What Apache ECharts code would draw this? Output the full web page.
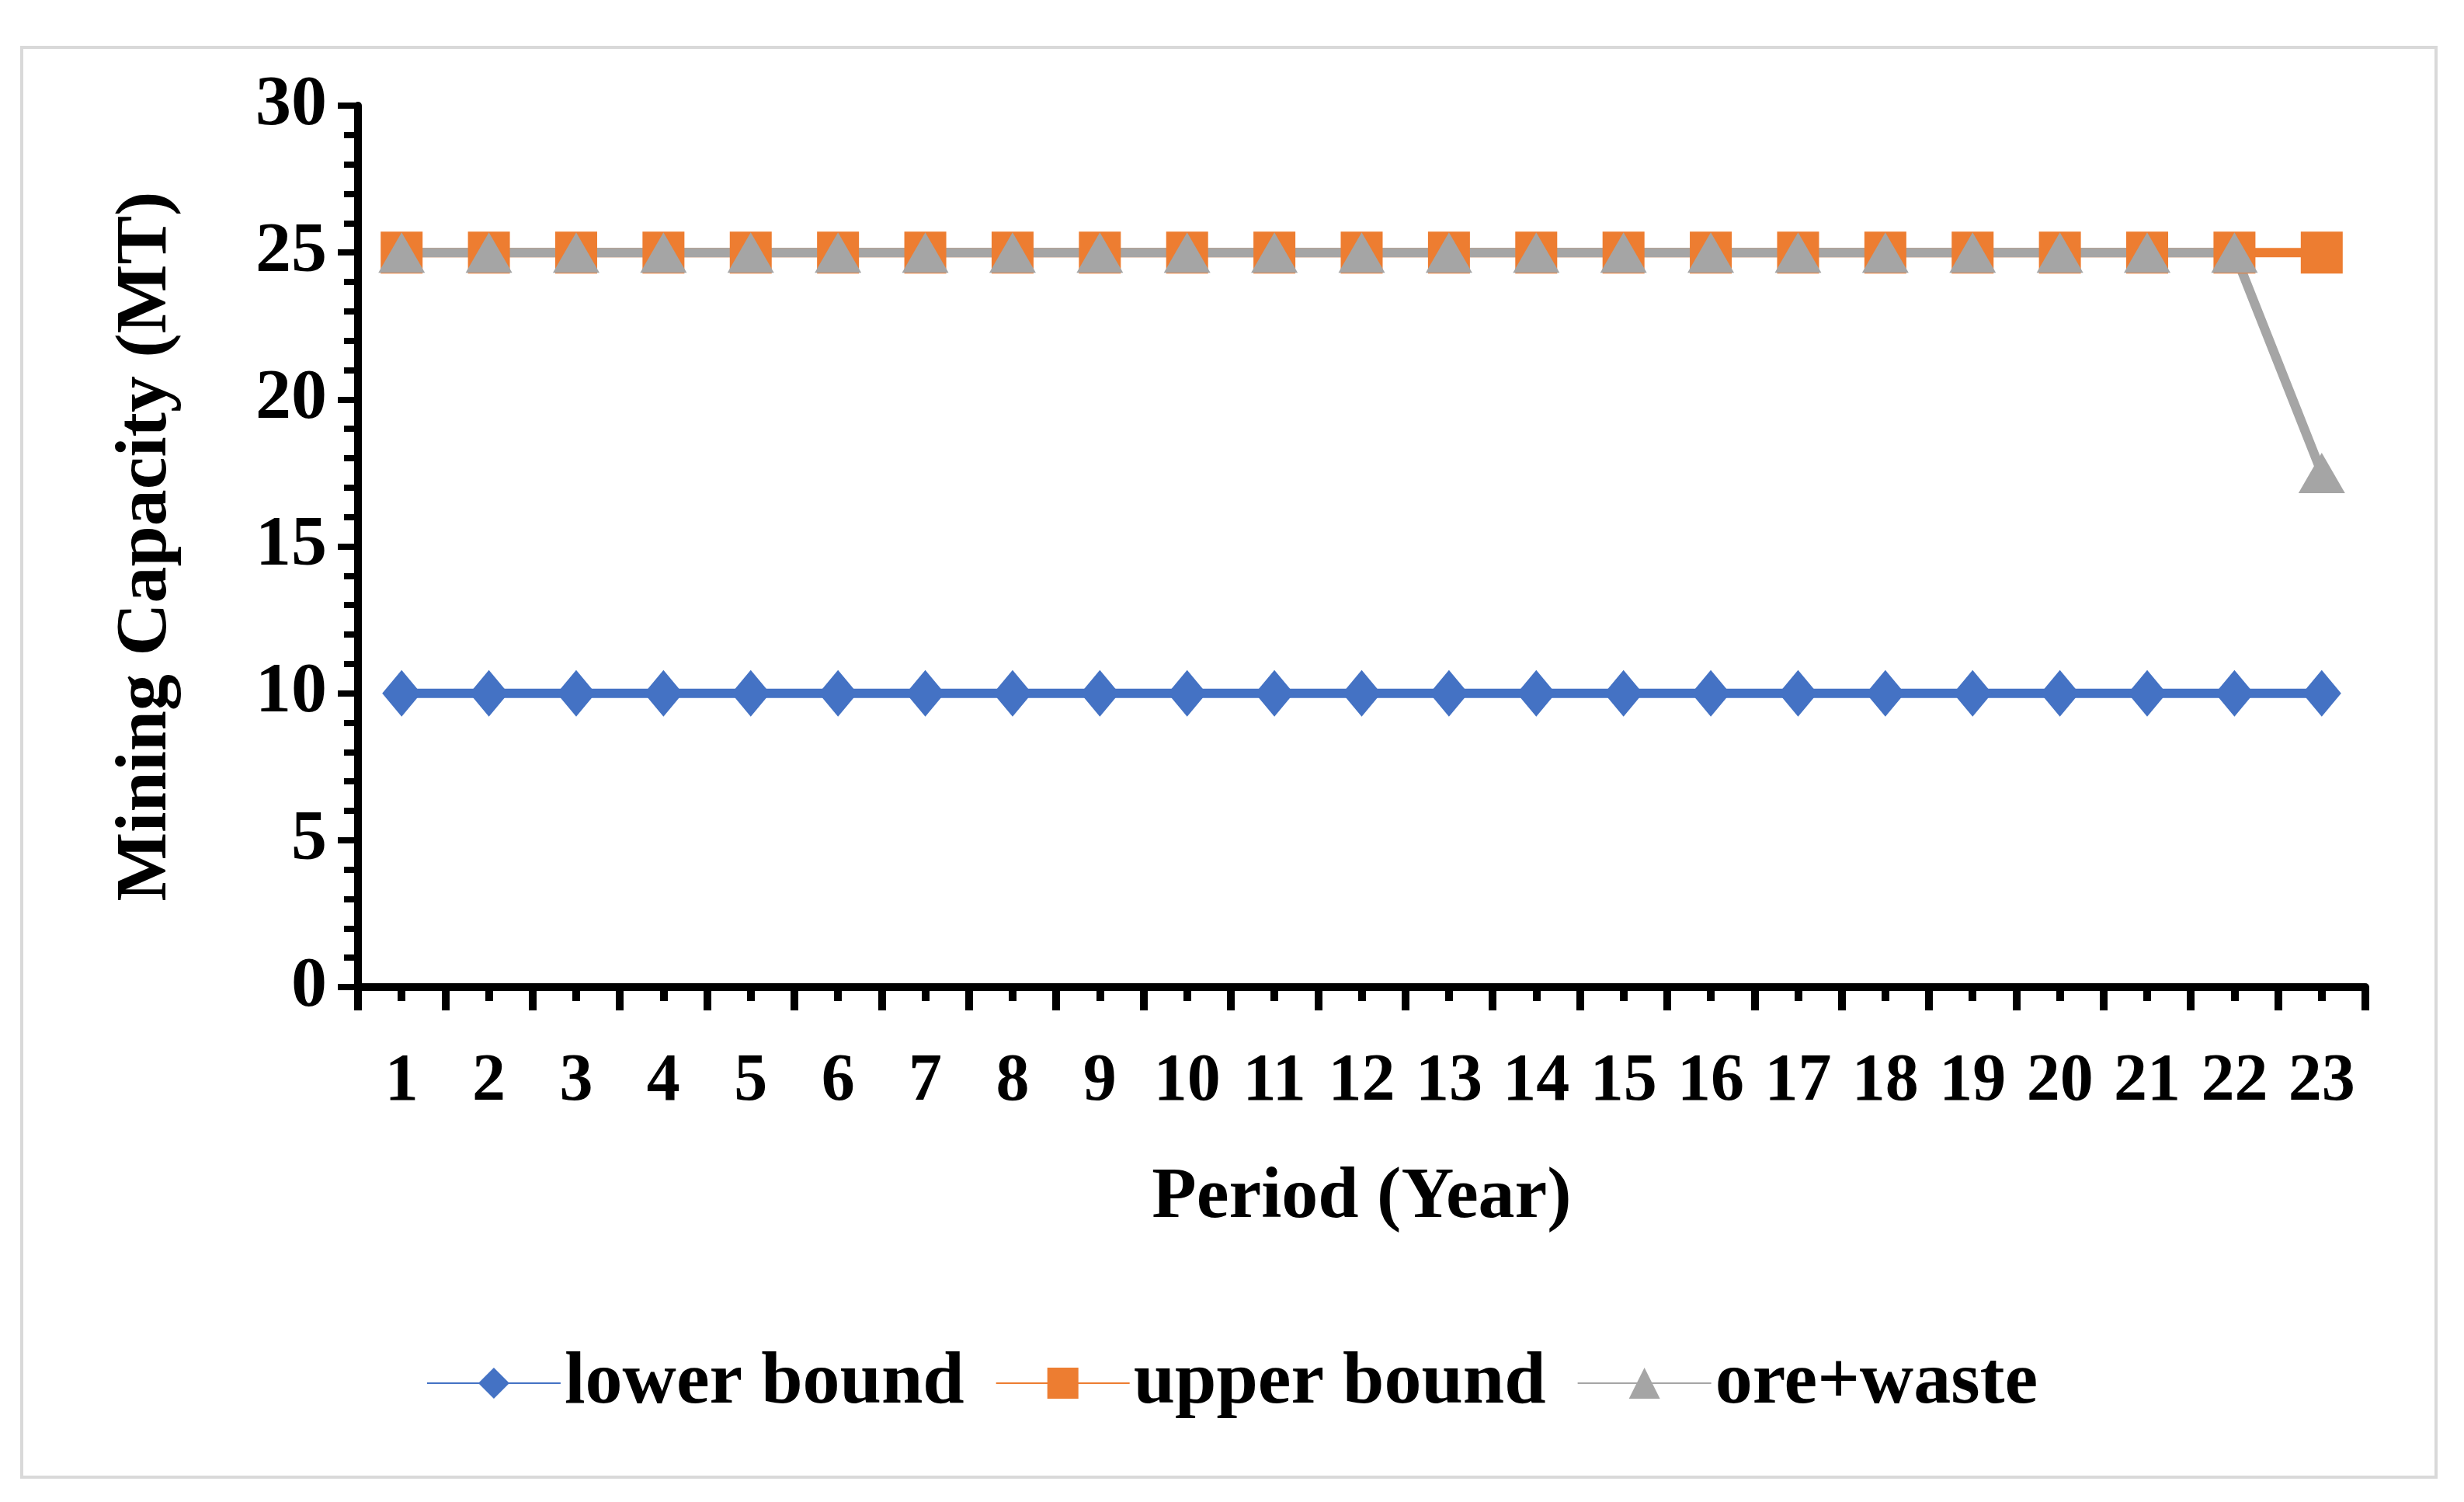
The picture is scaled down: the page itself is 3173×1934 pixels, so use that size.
<!DOCTYPE html>
<html><head><meta charset="utf-8">
<script src="https://cdn.jsdelivr.net/npm/echarts@6/dist/echarts.min.js"></script>
<style>html,body{margin:0;padding:0;background:#fff}#c{width:3173px;height:1934px}</style>
</head><body><div id="c"></div>
<script>
const categories = ['1','2','3','4','5','6','7','8','9','10','11','12','13','14','15','16','17','18','19','20','21','22','23'];
const lowerBound = [10,10,10,10,10,10,10,10,10,10,10,10,10,10,10,10,10,10,10,10,10,10,10];
const upperBound = [25,25,25,25,25,25,25,25,25,25,25,25,25,25,25,25,25,25,25,25,25,25,25];
const oreWaste = [25,25,25,25,25,25,25,25,25,25,25,25,25,25,25,25,25,25,25,25,25,25,17.5];
const font = 'Liberation Serif';
const chart = echarts.init(document.getElementById('c'));
chart.setOption({
  backgroundColor:'#fff',
  textStyle:{fontFamily:font},
  graphic:[{type:'rect',shape:{x:28,y:61,width:3109,height:1841},style:{fill:'none',stroke:'#d9d9d9',lineWidth:4},z:-1}],
  grid:{left:461,right:127,top:136,bottom:663},
  legend:{bottom:100,left:'center',itemWidth:172,itemHeight:50,itemGap:40,
    textStyle:{fontFamily:font,fontWeight:'bold',fontSize:96,color:'#000'}},
  xAxis:[{type:'category',data:categories,boundaryGap:true,
    name:'Period (Year)',nameLocation:'middle',nameGap:225,
    nameTextStyle:{fontFamily:font,fontWeight:'bold',fontSize:94,color:'#000'},
    axisLine:{lineStyle:{color:'#000',width:10}},
    axisTick:{show:true,length:30,lineStyle:{color:'#000',width:10}},
    axisLabel:{interval:0,margin:80,fontFamily:font,fontWeight:'bold',fontSize:86,color:'#000'}},
   {type:'value',min:0,max:23,interval:0.5,position:'bottom',
    axisLine:{show:false},axisLabel:{show:false},splitLine:{show:false},
    axisTick:{show:true,length:18,lineStyle:{color:'#000',width:10}}}],
  yAxis:{type:'value',min:0,max:30,interval:5,
    name:'Mining Capacity (MT)',nameLocation:'middle',nameGap:225,
    nameTextStyle:{fontFamily:font,fontWeight:'bold',fontSize:94,color:'#000'},
    axisLine:{show:true,lineStyle:{color:'#000',width:10}},
    axisTick:{show:true,length:26,lineStyle:{color:'#000',width:8}},
    minorTick:{show:true,splitNumber:5,length:18,lineStyle:{color:'#000',width:8}},
    splitLine:{show:false},
    axisLabel:{margin:40,fontFamily:font,fontWeight:'bold',fontSize:92,color:'#000'}},
  series:[
    {name:'lower bound',type:'line',data:lowerBound,symbol:'diamond',symbolSize:[50,60],
      itemStyle:{color:'#4472C4'},lineStyle:{width:12,color:'#4472C4'}},
    {name:'upper bound',type:'line',data:upperBound,symbol:'rect',symbolSize:54,
      itemStyle:{color:'#ED7D31'},lineStyle:{width:12,color:'#ED7D31'}},
    {name:'ore+waste',type:'line',data:oreWaste,symbol:'triangle',symbolSize:[60,52],
      itemStyle:{color:'#A5A5A5'},lineStyle:{width:12,color:'#A5A5A5'}}
  ]
});
</script></body></html>
